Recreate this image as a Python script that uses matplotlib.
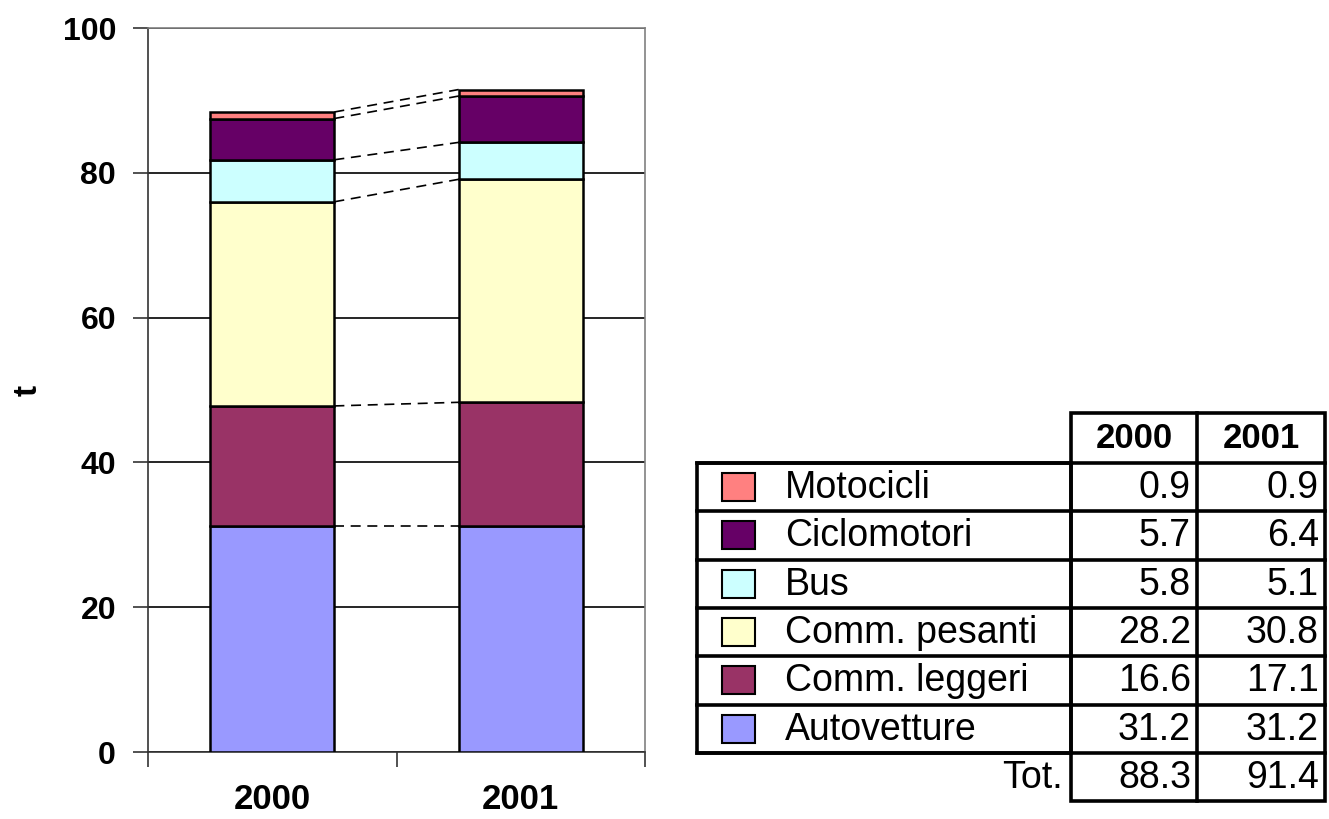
import numpy as np
import matplotlib
matplotlib.use("Agg")
import matplotlib.pyplot as plt
from matplotlib.patches import Rectangle

plt.rcParams["font.family"] = ["Liberation Sans", "DejaVu Sans"]

years = ["2000", "2001"]
cats = ["Autovetture", "Comm. leggeri", "Comm. pesanti", "Bus", "Ciclomotori", "Motocicli"]
v2000 = [31.2, 16.6, 28.2, 5.8, 5.7, 0.9]
v2001 = [31.2, 17.1, 30.8, 5.1, 6.4, 0.9]
totals = ["88.3", "91.4"]
colors = ["#9999FF", "#993366", "#FFFFCC", "#CCFFFF", "#660066", "#FF8080"]

W, H = 1329, 819
fig = plt.figure(figsize=(W / 100, H / 100), dpi=100)
ax = fig.add_axes([148 / W, 1 - 752 / H, (645 - 148) / W, (752 - 28) / H])

vals = np.array([v2000, v2001])
x = np.arange(len(years))
bw = 0.5
bottom = np.zeros(len(years))
for i, c in enumerate(cats):
    ax.bar(x, vals[:, i], bw, bottom=bottom, color=colors[i], edgecolor="black",
           linewidth=1.8, zorder=3)
    bottom += vals[:, i]

# dashed series lines between stacked boundaries
cum = np.cumsum(vals, axis=1)
for k in range(cum.shape[1]):
    ax.plot([x[0] + bw / 2, x[1] - bw / 2], [cum[0, k], cum[1, k]], ls=(0, (6, 4)),
            color="black", lw=1.2, zorder=2)

ax.set_xlim(-0.5, 1.5)
ax.set_ylim(0, 100)
ax.set_yticks(np.arange(0, 101, 20))
ax.yaxis.grid(True, color="black", lw=1.2, zorder=0)
ax.set_axisbelow(True)
ax.set_xticks([-0.5, 0.5, 1.5])
ax.set_xticklabels([])
ax.set_xticks(x, minor=True)
ax.set_xticklabels(years, minor=True, fontsize=25, fontweight="bold")
ax.tick_params(axis="x", which="minor", length=0, pad=22)
ax.tick_params(axis="both", which="major", direction="out", length=11, width=1.2, color="#333333")
ax.tick_params(axis="y", labelsize=23, pad=12)
for lab in ax.get_yticklabels():
    lab.set_fontweight("bold")
ax.spines["top"].set_color("#808080")
ax.spines["right"].set_color("#808080")
ax.spines["left"].set_color("#333333")
ax.spines["bottom"].set_color("#333333")
for s in ax.spines.values():
    s.set_linewidth(1.2)
ax.set_ylabel("t", fontsize=24, fontweight="bold", va="center")
ax.yaxis.set_label_coords((28 - 148) / 497, 0.5)

# data table on the right
tb = fig.add_axes([0, 0, 1, 1])
tb.set_xlim(0, W)
tb.set_ylim(H, 0)
tb.axis("off")
lx0, lx1, c1, c2 = 697, 1071, 1197, 1325
top_hdr, r0, rh = 413, 463, 48.3
n = len(cats)
lw = 2.6
rows = list(range(n))[::-1]  # Motocicli first
tb.add_patch(Rectangle((lx0, r0), lx1 - lx0, rh * n, fill=False, lw=lw, ec="black"))
tb.add_patch(Rectangle((lx1, top_hdr), c2 - lx1, r0 + rh * (n + 1) - top_hdr, fill=False, lw=lw, ec="black"))
tb.plot([c1, c1], [top_hdr, r0 + rh * (n + 1)], color="black", lw=lw)
for j in range(n + 1):
    y = r0 + rh * j
    tb.plot([lx0 if j <= n else lx1, c2], [y, y], color="black", lw=lw)
fs = 27
tb.text((lx1 + c1) / 2, (top_hdr + r0) / 2 + 1, years[0], ha="center", va="center",
        fontsize=25, fontweight="bold")
tb.text((c1 + c2) / 2, (top_hdr + r0) / 2 + 1, years[1], ha="center", va="center",
        fontsize=25, fontweight="bold")
for j, i in enumerate(rows):
    yc = r0 + rh * j + rh / 2
    tb.add_patch(Rectangle((722, yc - 14), 33, 28, fc=colors[i], ec="black", lw=1.5))
    tb.text(785, yc + 1, cats[i], ha="left", va="center", fontsize=fs)
    tb.text(c1 - 6, yc + 1, f"{v2000[i]:.1f}", ha="right", va="center", fontsize=fs)
    tb.text(c2 - 6, yc + 1, f"{v2001[i]:.1f}", ha="right", va="center", fontsize=fs)
yt = r0 + rh * n + rh / 2
tb.text(lx1 - 8, yt + 1, "Tot.", ha="right", va="center", fontsize=fs)
tb.text(c1 - 6, yt + 1, totals[0], ha="right", va="center", fontsize=fs)
tb.text(c2 - 6, yt + 1, totals[1], ha="right", va="center", fontsize=fs)

fig.savefig("out.png", dpi=100)
